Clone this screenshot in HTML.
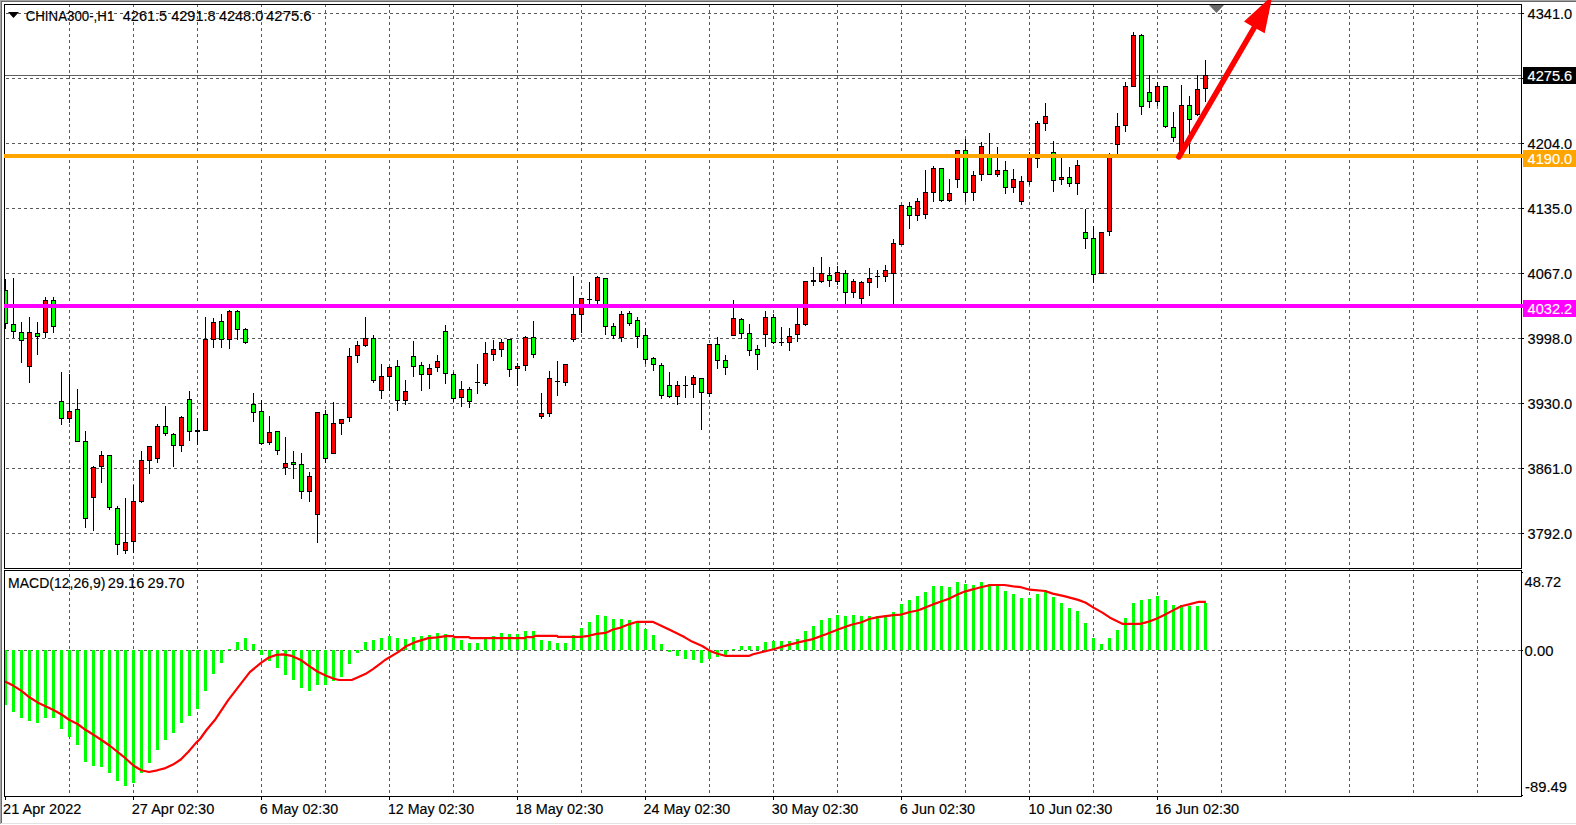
<!DOCTYPE html>
<html lang="en"><head><meta charset="utf-8"><title>CHINA300-,H1</title>
<style>html,body{margin:0;padding:0;background:#fff;overflow:hidden}svg{display:block}text{font-family:"Liberation Sans",Arial,sans-serif;font-size:14px;fill:#000;stroke:#000;stroke-width:0.15px}text.w{fill:#fff;stroke:#fff}</style></head><body>
<svg width="1576" height="825" viewBox="0 0 1576 825">
<rect width="1576" height="825" fill="#fff"/>
<g stroke="#5a5a5a" stroke-width="1" stroke-dasharray="3 3" shape-rendering="crispEdges" fill="none">
<line x1="69.5" y1="4" x2="69.5" y2="796"/>
<line x1="133.5" y1="4" x2="133.5" y2="796"/>
<line x1="197.5" y1="4" x2="197.5" y2="796"/>
<line x1="261.5" y1="4" x2="261.5" y2="796"/>
<line x1="325.5" y1="4" x2="325.5" y2="796"/>
<line x1="389.5" y1="4" x2="389.5" y2="796"/>
<line x1="453.5" y1="4" x2="453.5" y2="796"/>
<line x1="517.5" y1="4" x2="517.5" y2="796"/>
<line x1="581.5" y1="4" x2="581.5" y2="796"/>
<line x1="645.5" y1="4" x2="645.5" y2="796"/>
<line x1="709.5" y1="4" x2="709.5" y2="796"/>
<line x1="773.5" y1="4" x2="773.5" y2="796"/>
<line x1="837.5" y1="4" x2="837.5" y2="796"/>
<line x1="901.5" y1="4" x2="901.5" y2="796"/>
<line x1="965.5" y1="4" x2="965.5" y2="796"/>
<line x1="1029.5" y1="4" x2="1029.5" y2="796"/>
<line x1="1093.5" y1="4" x2="1093.5" y2="796"/>
<line x1="1157.5" y1="4" x2="1157.5" y2="796"/>
<line x1="1221.5" y1="4" x2="1221.5" y2="796"/>
<line x1="1285.5" y1="4" x2="1285.5" y2="796"/>
<line x1="1349.5" y1="4" x2="1349.5" y2="796"/>
<line x1="1413.5" y1="4" x2="1413.5" y2="796"/>
<line x1="1477.5" y1="4" x2="1477.5" y2="796"/>
<line x1="0" y1="13.5" x2="1521" y2="13.5"/>
<line x1="0" y1="78.5" x2="1521" y2="78.5"/>
<line x1="0" y1="143.5" x2="1521" y2="143.5"/>
<line x1="0" y1="208.5" x2="1521" y2="208.5"/>
<line x1="0" y1="273.5" x2="1521" y2="273.5"/>
<line x1="0" y1="338.5" x2="1521" y2="338.5"/>
<line x1="0" y1="403.5" x2="1521" y2="403.5"/>
<line x1="0" y1="468.5" x2="1521" y2="468.5"/>
<line x1="0" y1="533.5" x2="1521" y2="533.5"/>
<line x1="0" y1="650.5" x2="1521" y2="650.5"/>
</g>
<rect x="5" y="75" width="1516" height="1" fill="#5f5f5f" shape-rendering="crispEdges"/>
<g shape-rendering="crispEdges">
<path fill="#000" d="M5 279h1v50h-1zM13 278h1v60h-1zM21 322h1v41h-1zM29 317h1v66h-1zM37 322h1v33h-1zM45 297h1v41h-1zM53 297h1v36h-1zM61 372h1v53h-1zM69 374h1v49h-1zM77 389h1v53h-1zM85 431h1v97h-1zM93 466h1v65h-1zM101 451h1v32h-1zM109 455h1v55h-1zM117 506h1v49h-1zM125 498h1v56h-1zM133 485h1v68h-1zM141 451h1v52h-1zM149 446h1v28h-1zM157 424h1v39h-1zM165 406h1v30h-1zM173 433h1v34h-1zM181 416h1v36h-1zM189 391h1v50h-1zM197 418h1v27h-1zM205 317h1v114h-1zM213 318h1v30h-1zM221 314h1v34h-1zM229 310h1v39h-1zM237 310h1v30h-1zM245 328h1v16h-1zM253 393h1v29h-1zM261 400h1v45h-1zM269 416h1v29h-1zM277 431h1v24h-1zM285 437h1v38h-1zM293 451h1v28h-1zM301 453h1v46h-1zM309 472h1v30h-1zM317 412h1v131h-1zM325 410h1v53h-1zM333 402h1v52h-1zM341 419h1v16h-1zM349 348h1v74h-1zM357 341h1v22h-1zM365 317h1v30h-1zM373 335h1v48h-1zM381 364h1v35h-1zM389 366h1v25h-1zM397 360h1v51h-1zM405 380h1v25h-1zM413 341h1v36h-1zM421 362h1v29h-1zM429 364h1v25h-1zM437 355h1v17h-1zM445 325h1v59h-1zM453 372h1v30h-1zM461 381h1v26h-1zM469 387h1v21h-1zM477 364h1v30h-1zM485 342h1v44h-1zM493 340h1v21h-1zM501 339h1v18h-1zM509 339h1v38h-1zM517 363h1v23h-1zM525 336h1v35h-1zM533 321h1v37h-1zM541 393h1v26h-1zM549 371h1v46h-1zM557 361h1v35h-1zM565 364h1v22h-1zM573 276h1v66h-1zM581 298h1v35h-1zM589 282h1v24h-1zM597 276h1v30h-1zM605 278h1v57h-1zM613 323h1v16h-1zM621 311h1v31h-1zM629 311h1v15h-1zM637 317h1v31h-1zM645 328h1v36h-1zM653 357h1v14h-1zM661 363h1v36h-1zM669 372h1v26h-1zM677 381h1v24h-1zM685 376h1v22h-1zM693 375h1v23h-1zM701 378h1v52h-1zM709 344h1v53h-1zM717 337h1v32h-1zM725 355h1v20h-1zM733 300h1v36h-1zM741 318h1v21h-1zM749 324h1v32h-1zM757 345h1v25h-1zM765 311h1v36h-1zM773 314h1v30h-1zM781 327h1v19h-1zM789 328h1v23h-1zM797 305h1v37h-1zM805 281h1v45h-1zM813 267h1v19h-1zM821 257h1v26h-1zM829 267h1v20h-1zM837 266h1v19h-1zM845 270h1v36h-1zM853 279h1v19h-1zM861 281h1v25h-1zM869 268h1v28h-1zM877 270h1v18h-1zM885 265h1v17h-1zM893 239h1v67h-1zM901 205h1v40h-1zM909 202h1v27h-1zM917 198h1v23h-1zM925 170h1v49h-1zM933 166h1v36h-1zM941 168h1v34h-1zM949 179h1v23h-1zM957 150h1v38h-1zM965 139h1v63h-1zM973 171h1v30h-1zM981 142h1v39h-1zM989 133h1v42h-1zM997 147h1v30h-1zM1005 161h1v33h-1zM1013 169h1v24h-1zM1021 176h1v29h-1zM1029 152h1v33h-1zM1037 121h1v47h-1zM1045 103h1v28h-1zM1053 141h1v51h-1zM1061 155h1v30h-1zM1069 167h1v20h-1zM1077 160h1v35h-1zM1085 209h1v40h-1zM1093 226h1v57h-1zM1101 232h1v42h-1zM1109 153h1v83h-1zM1117 113h1v43h-1zM1125 82h1v50h-1zM1133 32h1v55h-1zM1141 34h1v81h-1zM1149 75h1v33h-1zM1157 82h1v24h-1zM1165 86h1v42h-1zM1173 112h1v30h-1zM1181 85h1v73h-1zM1189 96h1v60h-1zM1197 75h1v41h-1zM1205 60h1v42h-1zM3 290h5v34h-5zM11 324h5v8h-5zM19 332h5v9h-5zM27 332h5v35h-5zM35 333h5v4h-5zM43 300h5v33h-5zM51 300h5v27h-5zM59 401h5v18h-5zM67 411h5v8h-5zM75 409h5v33h-5zM83 441h5v78h-5zM91 467h5v31h-5zM99 455h5v12h-5zM107 455h5v53h-5zM115 508h5v37h-5zM123 542h5v9h-5zM131 501h5v41h-5zM139 460h5v42h-5zM147 446h5v15h-5zM155 426h5v33h-5zM163 426h5v8h-5zM171 434h5v12h-5zM179 417h5v29h-5zM187 399h5v33h-5zM195 430h5v2h-5zM203 339h5v92h-5zM211 322h5v18h-5zM219 321h5v19h-5zM227 311h5v29h-5zM235 311h5v19h-5zM243 329h5v14h-5zM251 404h5v9h-5zM259 411h5v33h-5zM267 432h5v11h-5zM275 431h5v20h-5zM283 463h5v5h-5zM291 462h5v3h-5zM299 464h5v28h-5zM307 476h5v16h-5zM315 412h5v103h-5zM323 414h5v45h-5zM331 423h5v31h-5zM339 419h5v5h-5zM347 356h5v62h-5zM355 345h5v11h-5zM363 338h5v8h-5zM371 338h5v43h-5zM379 376h5v15h-5zM387 367h5v10h-5zM395 366h5v35h-5zM403 391h5v10h-5zM411 356h5v11h-5zM419 365h5v10h-5zM427 368h5v7h-5zM435 361h5v7h-5zM443 331h5v43h-5zM451 374h5v25h-5zM459 389h5v9h-5zM467 389h5v13h-5zM475 382h5v1h-5zM483 353h5v31h-5zM491 349h5v6h-5zM499 342h5v8h-5zM507 339h5v31h-5zM515 366h5v3h-5zM523 337h5v29h-5zM531 337h5v18h-5zM539 413h5v4h-5zM547 378h5v36h-5zM555 381h5v1h-5zM563 364h5v19h-5zM571 314h5v26h-5zM579 298h5v17h-5zM587 299h5v1h-5zM595 277h5v24h-5zM603 278h5v49h-5zM611 326h5v10h-5zM619 314h5v24h-5zM627 313h5v11h-5zM635 320h5v17h-5zM643 335h5v25h-5zM651 358h5v7h-5zM659 365h5v31h-5zM667 385h5v12h-5zM675 385h5v12h-5zM683 385h5v1h-5zM691 377h5v8h-5zM699 378h5v15h-5zM707 344h5v50h-5zM715 344h5v17h-5zM723 360h5v8h-5zM731 318h5v18h-5zM739 319h5v15h-5zM747 333h5v18h-5zM755 349h5v6h-5zM763 317h5v18h-5zM771 317h5v26h-5zM779 342h5v1h-5zM787 336h5v7h-5zM795 324h5v11h-5zM803 281h5v44h-5zM811 280h5v2h-5zM819 273h5v9h-5zM827 275h5v6h-5zM835 272h5v10h-5zM843 273h5v20h-5zM851 281h5v12h-5zM859 282h5v17h-5zM867 278h5v5h-5zM875 276h5v1h-5zM883 270h5v7h-5zM891 243h5v31h-5zM899 205h5v40h-5zM907 206h5v10h-5zM915 201h5v15h-5zM923 192h5v23h-5zM931 168h5v25h-5zM939 168h5v33h-5zM947 193h5v8h-5zM955 150h5v30h-5zM963 150h5v43h-5zM971 175h5v18h-5zM979 146h5v29h-5zM987 155h5v20h-5zM995 170h5v5h-5zM1003 170h5v18h-5zM1011 179h5v9h-5zM1019 181h5v21h-5zM1027 156h5v26h-5zM1035 123h5v36h-5zM1043 116h5v8h-5zM1051 152h5v29h-5zM1059 177h5v3h-5zM1067 177h5v7h-5zM1075 165h5v19h-5zM1083 232h5v7h-5zM1091 238h5v37h-5zM1099 232h5v42h-5zM1107 155h5v77h-5zM1115 126h5v19h-5zM1123 86h5v40h-5zM1131 35h5v52h-5zM1139 35h5v72h-5zM1147 92h5v10h-5zM1155 86h5v16h-5zM1163 86h5v41h-5zM1171 127h5v11h-5zM1179 105h5v51h-5zM1187 105h5v15h-5zM1195 89h5v26h-5zM1203 75h5v14h-5z"/>
<path fill="#00ff00" d="M4 291h3v32h-3zM12 325h3v6h-3zM20 333h3v7h-3zM36 334h3v2h-3zM52 301h3v25h-3zM60 402h3v16h-3zM76 410h3v31h-3zM84 442h3v76h-3zM108 456h3v51h-3zM116 509h3v35h-3zM164 427h3v6h-3zM172 435h3v10h-3zM188 400h3v31h-3zM220 322h3v17h-3zM236 312h3v17h-3zM244 330h3v12h-3zM252 405h3v7h-3zM260 412h3v31h-3zM276 432h3v18h-3zM292 463h3v1h-3zM300 465h3v26h-3zM324 415h3v43h-3zM372 339h3v41h-3zM396 367h3v33h-3zM412 357h3v9h-3zM420 366h3v8h-3zM444 332h3v41h-3zM452 375h3v23h-3zM468 390h3v11h-3zM508 340h3v29h-3zM532 338h3v16h-3zM604 279h3v47h-3zM612 327h3v8h-3zM628 314h3v9h-3zM636 321h3v15h-3zM644 336h3v23h-3zM652 359h3v5h-3zM660 366h3v29h-3zM668 386h3v10h-3zM700 379h3v13h-3zM716 345h3v15h-3zM724 361h3v6h-3zM740 320h3v13h-3zM748 334h3v16h-3zM756 350h3v4h-3zM772 318h3v24h-3zM828 276h3v4h-3zM844 274h3v18h-3zM908 207h3v8h-3zM940 169h3v31h-3zM964 151h3v41h-3zM988 156h3v18h-3zM1004 171h3v16h-3zM1052 153h3v27h-3zM1068 178h3v5h-3zM1084 233h3v5h-3zM1092 239h3v35h-3zM1140 36h3v70h-3zM1148 93h3v8h-3zM1164 87h3v39h-3zM1172 128h3v9h-3zM1188 106h3v13h-3z"/>
<path fill="#ff0000" d="M28 333h3v33h-3zM44 301h3v31h-3zM68 412h3v6h-3zM92 468h3v29h-3zM100 456h3v10h-3zM124 543h3v7h-3zM132 502h3v39h-3zM140 461h3v40h-3zM148 447h3v13h-3zM156 427h3v31h-3zM180 418h3v27h-3zM204 340h3v90h-3zM212 323h3v16h-3zM228 312h3v27h-3zM268 433h3v9h-3zM284 464h3v3h-3zM308 477h3v14h-3zM316 413h3v101h-3zM332 424h3v29h-3zM340 420h3v3h-3zM348 357h3v60h-3zM356 346h3v9h-3zM364 339h3v6h-3zM380 377h3v13h-3zM388 368h3v8h-3zM404 392h3v8h-3zM428 369h3v5h-3zM436 362h3v5h-3zM460 390h3v7h-3zM484 354h3v29h-3zM492 350h3v4h-3zM500 343h3v6h-3zM516 367h3v1h-3zM524 338h3v27h-3zM540 414h3v2h-3zM548 379h3v34h-3zM564 365h3v17h-3zM572 315h3v24h-3zM580 299h3v15h-3zM596 278h3v22h-3zM620 315h3v22h-3zM676 386h3v10h-3zM692 378h3v6h-3zM708 345h3v48h-3zM732 319h3v16h-3zM764 318h3v16h-3zM788 337h3v5h-3zM796 325h3v9h-3zM804 282h3v42h-3zM820 274h3v7h-3zM836 273h3v8h-3zM852 282h3v10h-3zM860 283h3v15h-3zM868 279h3v3h-3zM884 271h3v5h-3zM892 244h3v29h-3zM900 206h3v38h-3zM916 202h3v13h-3zM924 193h3v21h-3zM932 169h3v23h-3zM948 194h3v6h-3zM956 151h3v28h-3zM972 176h3v16h-3zM980 147h3v27h-3zM996 171h3v3h-3zM1012 180h3v7h-3zM1020 182h3v19h-3zM1028 157h3v24h-3zM1036 124h3v34h-3zM1044 117h3v6h-3zM1060 178h3v1h-3zM1076 166h3v17h-3zM1100 233h3v40h-3zM1108 156h3v75h-3zM1116 127h3v17h-3zM1124 87h3v38h-3zM1132 36h3v50h-3zM1156 87h3v14h-3zM1180 106h3v49h-3zM1196 90h3v24h-3zM1204 76h3v12h-3z"/>
<path fill="#00ff00" d="M4 650h3v55h-3zM12 650h3v62h-3zM20 650h3v68h-3zM28 650h3v71h-3zM36 650h3v73h-3zM44 650h3v68h-3zM52 650h3v68h-3zM60 650h3v79h-3zM68 650h3v87h-3zM76 650h3v95h-3zM84 650h3v112h-3zM92 650h3v116h-3zM100 650h3v117h-3zM108 650h3v123h-3zM116 650h3v131h-3zM124 650h3v136h-3zM132 650h3v133h-3zM140 650h3v123h-3zM148 650h3v113h-3zM156 650h3v100h-3zM164 650h3v90h-3zM172 650h3v83h-3zM180 650h3v73h-3zM188 650h3v66h-3zM196 650h3v59h-3zM204 650h3v41h-3zM212 650h3v24h-3zM220 650h3v13h-3zM228 649h3v1h-3zM236 642h3v8h-3zM244 638h3v12h-3zM252 644h3v6h-3zM260 650h3v5h-3zM268 650h3v11h-3zM276 650h3v18h-3zM284 650h3v25h-3zM292 650h3v30h-3zM300 650h3v38h-3zM308 650h3v41h-3zM316 650h3v35h-3zM324 650h3v35h-3zM332 650h3v31h-3zM340 650h3v27h-3zM348 650h3v14h-3zM356 650h3v3h-3zM364 642h3v8h-3zM372 640h3v10h-3zM380 638h3v12h-3zM388 636h3v14h-3zM396 638h3v12h-3zM404 639h3v11h-3zM412 637h3v13h-3zM420 636h3v14h-3zM428 635h3v15h-3zM436 633h3v17h-3zM444 634h3v16h-3zM452 638h3v12h-3zM460 640h3v10h-3zM468 643h3v7h-3zM476 643h3v7h-3zM484 638h3v12h-3zM492 636h3v14h-3zM500 633h3v17h-3zM508 634h3v16h-3zM516 634h3v16h-3zM524 631h3v19h-3zM532 631h3v19h-3zM540 640h3v10h-3zM548 641h3v9h-3zM556 643h3v7h-3zM564 643h3v7h-3zM572 635h3v15h-3zM580 628h3v22h-3zM588 622h3v28h-3zM596 615h3v35h-3zM604 616h3v34h-3zM612 619h3v31h-3zM620 619h3v31h-3zM628 620h3v30h-3zM636 623h3v27h-3zM644 629h3v21h-3zM652 635h3v15h-3zM660 644h3v6h-3zM668 650h3v2h-3zM676 650h3v6h-3zM684 650h3v9h-3zM692 650h3v10h-3zM700 650h3v13h-3zM708 650h3v9h-3zM716 650h3v7h-3zM724 650h3v6h-3zM732 649h3v1h-3zM740 646h3v4h-3zM748 646h3v4h-3zM756 646h3v4h-3zM764 642h3v8h-3zM772 641h3v9h-3zM780 641h3v9h-3zM788 641h3v9h-3zM796 639h3v11h-3zM804 631h3v19h-3zM812 626h3v24h-3zM820 620h3v30h-3zM828 618h3v32h-3zM836 615h3v35h-3zM844 616h3v34h-3zM852 615h3v35h-3zM860 616h3v34h-3zM868 616h3v34h-3zM876 616h3v34h-3zM884 615h3v35h-3zM892 612h3v38h-3zM900 604h3v46h-3zM908 600h3v50h-3zM916 596h3v54h-3zM924 592h3v58h-3zM932 586h3v64h-3zM940 586h3v64h-3zM948 587h3v63h-3zM956 582h3v68h-3zM964 584h3v66h-3zM972 585h3v65h-3zM980 582h3v68h-3zM988 584h3v66h-3zM996 585h3v65h-3zM1004 591h3v59h-3zM1012 594h3v56h-3zM1020 598h3v52h-3zM1028 598h3v52h-3zM1036 594h3v56h-3zM1044 590h3v60h-3zM1052 597h3v53h-3zM1060 603h3v47h-3zM1068 608h3v42h-3zM1076 611h3v39h-3zM1084 623h3v27h-3zM1092 638h3v12h-3zM1100 644h3v6h-3zM1108 638h3v12h-3zM1116 630h3v20h-3zM1124 618h3v32h-3zM1132 603h3v47h-3zM1140 600h3v50h-3zM1148 599h3v51h-3zM1156 596h3v54h-3zM1164 600h3v50h-3zM1172 605h3v45h-3zM1180 605h3v45h-3zM1188 606h3v44h-3zM1196 606h3v44h-3zM1204 603h3v47h-3z"/>
</g>
<polyline points="5.0,681.4 13.6,685.8 21.5,690.9 29.5,697.3 37.5,702.4 45.5,706.2 53.5,710.0 61.5,714.5 69.5,720.0 77.5,724.0 85.5,729.8 94.2,735.3 101.5,740.0 109.5,745.5 125.4,758.2 133.7,765.8 141.3,770.3 149.0,772.0 157.2,770.3 165.5,768.1 173.0,764.6 180.8,759.5 188.4,751.8 196.0,742.9 200.0,739.0 206.5,730.0 215.5,719.2 228.2,700.1 240.9,683.6 249.8,672.1 261.3,662.6 268.9,657.5 276.6,654.9 282.9,654.3 291.8,655.9 300.8,660.0 309.7,666.4 317.3,671.5 325.6,675.5 333.9,678.7 339.0,680.0 351.7,680.0 358.0,677.2 365.7,673.8 373.3,668.9 381.0,663.2 385.0,660.0 397.7,652.4 406.6,646.0 416.8,641.6 428.3,638.1 437.2,637.4 446.0,636.1 453.0,636.1 454.4,637.1 469.0,637.1 470.3,638.1 525.0,638.1 526.3,637.1 533.3,637.1 535.2,635.8 556.9,635.8 558.1,636.8 581.0,636.8 588.9,635.8 596.5,633.9 605.5,632.9 613.1,629.5 620.7,627.6 629.6,624.1 637.3,621.8 652.6,621.8 656.4,623.4 669.1,629.5 684.4,637.1 692.0,641.6 702.2,646.0 709.9,650.9 717.5,653.7 725.1,655.8 749.3,655.8 753.1,654.3 763.3,651.7 773.5,649.2 787.7,645.1 800.5,641.9 811.9,639.4 825.9,634.3 838.7,629.2 851.4,624.7 861.6,622.2 869.2,619.0 878.1,617.1 885.8,616.1 893.4,615.2 901.0,614.6 909.9,612.0 917.6,610.5 925.2,607.6 932.9,604.4 941.8,601.2 949.4,598.6 957.0,594.8 964.7,591.6 970.0,590.1 978.9,587.8 990.4,585.0 1004.4,585.0 1013.3,586.3 1020.9,587.2 1029.8,589.7 1045.1,591.0 1052.7,593.6 1064.2,596.1 1078.2,599.9 1085.8,602.8 1093.5,607.6 1102.4,612.6 1110.0,617.7 1117.7,621.6 1122.8,623.9 1140.5,623.9 1148.7,621.6 1157.0,618.5 1164.7,614.7 1173.5,610.1 1181.1,606.3 1190.0,604.1 1198.9,601.8 1205.9,601.8" fill="none" stroke="#ff0000" stroke-width="2.2" stroke-linejoin="round"/>
<g shape-rendering="crispEdges">
<rect x="0" y="0" width="4" height="825" fill="#fff"/>
<path fill="#000" d="M4 4h1518v1h-1518zM4 568h1518v1h-1518zM4 4h1v565h-1zM1521 4h1v565h-1zM4 570h1518v1h-1518zM4 796h1518v1h-1518zM4 570h1v227h-1zM1521 570h1v227h-1z"/>
<rect x="4" y="154" width="1519" height="4" fill="#ffa500"/>
<rect x="4" y="304" width="1519" height="4" fill="#ff00ff"/>
<path fill="#696969" d="M1209 5h15l-7.5 8z" shape-rendering="geometricPrecision"/>
<path fill="#000" d="M1522 13h2v1h-2zM1522 78h2v1h-2zM1522 143h2v1h-2zM1522 208h2v1h-2zM1522 273h2v1h-2zM1522 338h2v1h-2zM1522 403h2v1h-2zM1522 468h2v1h-2zM1522 533h2v1h-2zM1522 572h1v1h-1zM1522 650h1v1h-1zM1522 795h1v1h-1zM5 797h1v3h-1zM133 797h1v3h-1zM261 797h1v3h-1zM389 797h1v3h-1zM517 797h1v3h-1zM645 797h1v3h-1zM773 797h1v3h-1zM901 797h1v3h-1zM1029 797h1v3h-1zM1157 797h1v3h-1z"/>
<rect x="1523" y="67" width="53" height="17" fill="#000"/>
<rect x="1523" y="150" width="53" height="17" fill="#ffa500"/>
<rect x="1523" y="300" width="53" height="17" fill="#ff00ff"/>
<rect x="0" y="0" width="1576" height="1" fill="#a5a5a5"/><rect x="0" y="0" width="1" height="824" fill="#a5a5a5"/>
<rect x="1" y="1" width="1575" height="1" fill="#696969"/><rect x="1" y="1" width="1" height="822" fill="#696969"/>
<rect x="1" y="823" width="1575" height="1" fill="#e3e3e3"/>
</g>
<path fill="#000" d="M8 12h11l-5.5 6z"/>
<text x="25.70" y="21" textLength="88.60" lengthAdjust="spacingAndGlyphs">CHINA300-,H1</text>
<text x="122.80" y="21" textLength="44.40" lengthAdjust="spacingAndGlyphs">4261.5</text>
<text x="171.20" y="21" textLength="44.40" lengthAdjust="spacingAndGlyphs">4291.8</text>
<text x="218.90" y="21" textLength="44.40" lengthAdjust="spacingAndGlyphs">4248.0</text>
<text x="266.10" y="21" textLength="45.50" lengthAdjust="spacingAndGlyphs">4275.6</text>
<text x="8.10" y="588" textLength="97.30" lengthAdjust="spacingAndGlyphs">MACD(12,26,9)</text>
<text x="107.80" y="588" textLength="36.50" lengthAdjust="spacingAndGlyphs">29.16</text>
<text x="147.60" y="588" textLength="36.70" lengthAdjust="spacingAndGlyphs">29.70</text>
<text x="1527.60" y="19" textLength="44.60" lengthAdjust="spacingAndGlyphs">4341.0</text>
<text x="1527.60" y="149" textLength="44.60" lengthAdjust="spacingAndGlyphs">4204.0</text>
<text x="1527.60" y="214" textLength="44.60" lengthAdjust="spacingAndGlyphs">4135.0</text>
<text x="1527.60" y="279" textLength="44.60" lengthAdjust="spacingAndGlyphs">4067.0</text>
<text x="1527.60" y="344" textLength="44.60" lengthAdjust="spacingAndGlyphs">3998.0</text>
<text x="1527.60" y="409" textLength="44.60" lengthAdjust="spacingAndGlyphs">3930.0</text>
<text x="1527.60" y="474" textLength="44.60" lengthAdjust="spacingAndGlyphs">3861.0</text>
<text x="1527.60" y="539" textLength="44.60" lengthAdjust="spacingAndGlyphs">3792.0</text>
<text x="1527.60" y="81" textLength="44.60" lengthAdjust="spacingAndGlyphs" class="w">4275.6</text>
<text x="1527.60" y="164" textLength="44.60" lengthAdjust="spacingAndGlyphs" class="w">4190.0</text>
<text x="1527.60" y="314" textLength="44.60" lengthAdjust="spacingAndGlyphs" class="w">4032.2</text>
<text x="1524.50" y="587" textLength="36.70" lengthAdjust="spacingAndGlyphs">48.72</text>
<text x="1524.60" y="656" textLength="28.80" lengthAdjust="spacingAndGlyphs">0.00</text>
<text x="1525.10" y="792" textLength="41.80" lengthAdjust="spacingAndGlyphs">-89.49</text>
<text x="3.10" y="814" textLength="78.30" lengthAdjust="spacingAndGlyphs">21 Apr 2022</text>
<text x="131.70" y="814" textLength="82.60" lengthAdjust="spacingAndGlyphs">27 Apr 02:30</text>
<text x="259.70" y="814" textLength="78.40" lengthAdjust="spacingAndGlyphs">6 May 02:30</text>
<text x="387.90" y="814" textLength="86.20" lengthAdjust="spacingAndGlyphs">12 May 02:30</text>
<text x="515.60" y="814" textLength="87.70" lengthAdjust="spacingAndGlyphs">18 May 02:30</text>
<text x="643.50" y="814" textLength="86.70" lengthAdjust="spacingAndGlyphs">24 May 02:30</text>
<text x="771.70" y="814" textLength="86.60" lengthAdjust="spacingAndGlyphs">30 May 02:30</text>
<text x="899.70" y="814" textLength="75.20" lengthAdjust="spacingAndGlyphs">6 Jun 02:30</text>
<text x="1028.50" y="814" textLength="83.80" lengthAdjust="spacingAndGlyphs">10 Jun 02:30</text>
<text x="1155.30" y="814" textLength="83.90" lengthAdjust="spacingAndGlyphs">16 Jun 02:30</text>
<g fill="#ff0000" stroke="none">
<line x1="1178.9" y1="156.8" x2="1254.2" y2="27.7" stroke="#ff0000" stroke-width="5.6" stroke-linecap="round"/>
<path d="M1272.5 -4.6L1244 21.5L1251.9 26.2L1257.4 29.2L1264.7 33.3z"/>
</g>
</svg></body></html>
